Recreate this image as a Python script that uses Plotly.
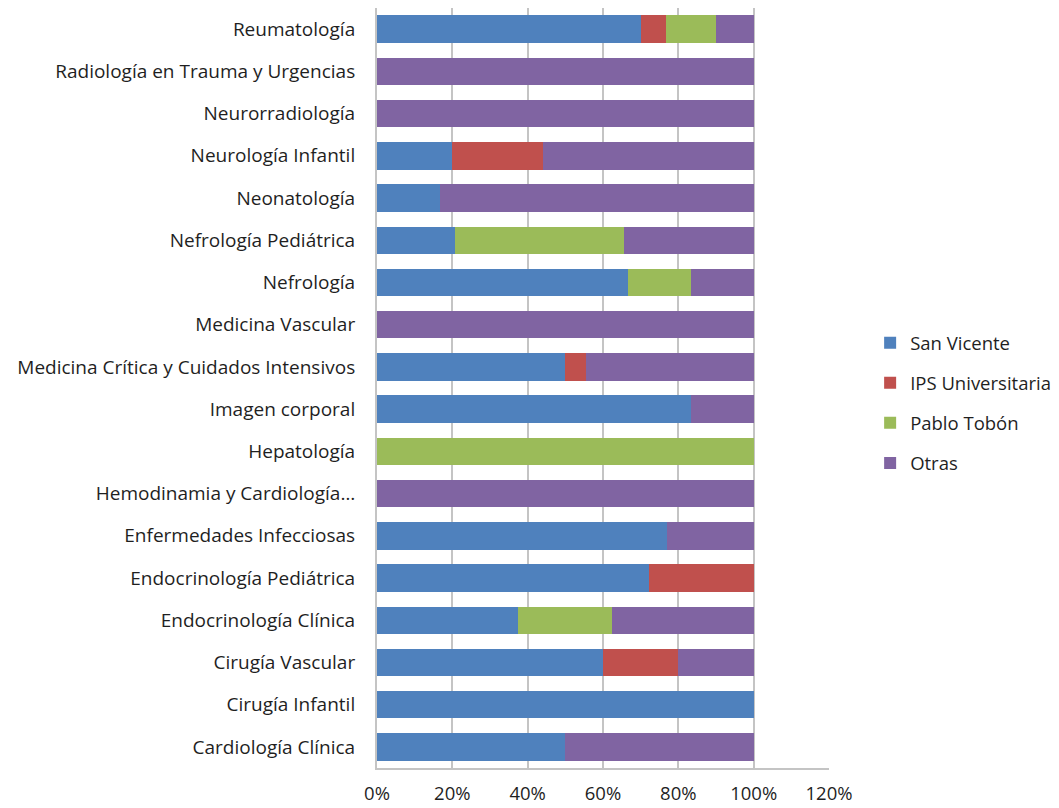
import plotly.graph_objects as go

categories = [
    "Cardiología Clínica",
    "Cirugía Infantil",
    "Cirugía Vascular",
    "Endocrinología Clínica",
    "Endocrinología Pediátrica",
    "Enfermedades Infecciosas",
    "Hemodinamia y Cardiología…",
    "Hepatología",
    "Imagen corporal",
    "Medicina Crítica y Cuidados Intensivos",
    "Medicina Vascular",
    "Nefrología",
    "Nefrología Pediátrica",
    "Neonatología",
    "Neurología Infantil",
    "Neurorradiología",
    "Radiología en Trauma y Urgencias",
    "Reumatología",
]

san_vicente = [50.0, 100.0, 60.0, 37.5, 72.2, 76.9, 0, 0, 83.3, 50.0, 0, 66.7, 20.7, 16.7, 20.0, 0, 0, 70.0]
ips_universitaria = [0, 0, 20.0, 0, 27.8, 0, 0, 0, 0, 5.6, 0, 0, 0, 0, 24.0, 0, 0, 6.7]
pablo_tobon = [0, 0, 0, 25.0, 0, 0, 0, 100.0, 0, 0, 0, 16.7, 44.8, 0, 0, 0, 0, 13.3]
otras = [50.0, 0, 20.0, 37.5, 0, 23.1, 100.0, 0, 16.7, 44.4, 100.0, 16.6, 34.5, 83.3, 56.0, 100.0, 100.0, 10.0]

series = [
    ("San Vicente", san_vicente, "#4F81BD"),
    ("IPS Universitaria", ips_universitaria, "#C0504D"),
    ("Pablo Tobón", pablo_tobon, "#9BBB59"),
    ("Otras", otras, "#8064A2"),
]

x_ticks = [0, 20, 40, 60, 80, 100, 120]

fig = go.Figure()
for name, vals, color in series:
    fig.add_trace(go.Bar(
        y=categories, x=vals, name=name, orientation="h",
        marker=dict(color=color, line=dict(width=0)),
        legendgroup=name,
    ))

font_family = "'Open Sans', Lato, sans-serif"

fig.update_layout(
    width=1059, height=808,
    barmode="stack", bargap=0.35,
    plot_bgcolor="white", paper_bgcolor="white",
    margin=dict(l=377, r=230, t=8, b=40, autoexpand=False),
    font=dict(family=font_family, size=19, color="#1f1f1f"),
    showlegend=True,
    legend=dict(
        x=1.091, y=0.48, xanchor="left", yanchor="middle",
        traceorder="grouped", tracegroupgap=13,
        font=dict(size=18.5, color="#1f1f1f"),
        itemwidth=30,
    ),
    xaxis=dict(
        range=[0, 120], tickvals=x_ticks,
        ticktext=[f"{v}%" for v in x_ticks],
        showgrid=True, gridcolor="#c4c4c4", gridwidth=2,
        showline=True, linecolor="#c4c4c4", linewidth=2,
        zeroline=False, ticks="", ticklabelstandoff=8,
        tickfont=dict(size=18.5), automargin=False,
    ),
    yaxis=dict(
        categoryorder="array", categoryarray=categories,
        showgrid=False, showline=True, linecolor="#c4c4c4", linewidth=2,
        ticks="", ticklabelstandoff=16,
        tickfont=dict(size=19), automargin=False,
    ),
)

fig.write_html("out.html", config={"displayModeBar": False},
               post_script="document.body.style.margin='0';")
